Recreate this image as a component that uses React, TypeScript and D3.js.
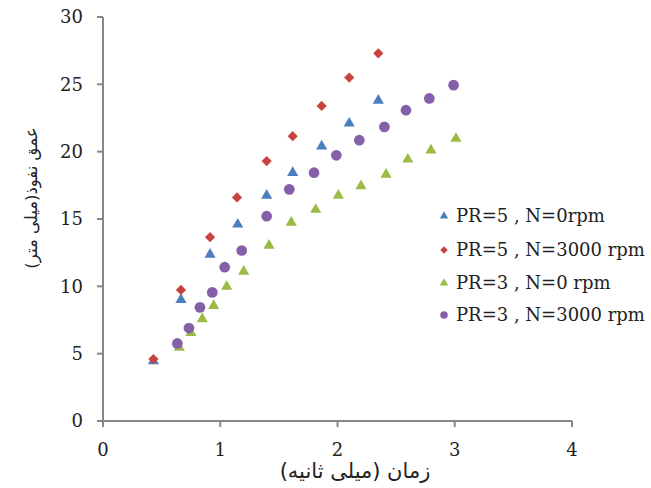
import React from "react";
import * as d3 from "d3";

const xTicks = [0, 1, 2, 3, 4];
const yTicks = [0, 5, 10, 15, 20, 25, 30];

const pr5n0X = [0.43, 0.665, 0.913, 1.149, 1.396, 1.618, 1.865, 2.1, 2.348];
const pr5n0Y = [4.45, 9.0, 12.36, 14.6, 16.75, 18.44, 20.4, 22.1, 23.8];

const pr5n3000X = [0.43, 0.665, 0.913, 1.143, 1.396, 1.618, 1.865, 2.1, 2.348];
const pr5n3000Y = [4.6, 9.73, 13.65, 16.6, 19.3, 21.15, 23.4, 25.5, 27.3];

const pr3n0X = [0.651, 0.75, 0.847, 0.944, 1.055, 1.2, 1.416, 1.606, 1.814, 2.007, 2.2, 2.414, 2.6, 2.797, 3.01];
const pr3n0Y = [5.46, 6.55, 7.57, 8.56, 9.98, 11.1, 13.03, 14.74, 15.7, 16.75, 17.45, 18.3, 19.43, 20.1, 20.97];

const pr3n3000X = [0.634, 0.733, 0.827, 0.932, 1.038, 1.183, 1.396, 1.589, 1.8, 1.99, 2.186, 2.4, 2.584, 2.783, 2.99];
const pr3n3000Y = [5.76, 6.9, 8.44, 9.55, 11.42, 12.66, 15.21, 17.2, 18.44, 19.73, 20.85, 21.84, 23.08, 23.95, 24.94];

const seriesNames = ["PR=5 , N=0rpm", "PR=5 , N=3000 rpm", "PR=3 , N=0 rpm", "PR=3 , N=3000 rpm"];
const seriesColors = ["#4a7ebf", "#c8433f", "#9bbb45", "#8360a8"];
const seriesShapes = ["triangle", "diamond", "triangle", "circle"];

const xTitle = "زمان (میلی ثانیه)";
const yTitle = "عمق نفوذ(میلی متر)";

const W = 651;
const H = 488;

function markerPath(shape: string, big: boolean) {
  if (shape === "triangle") return d3.symbol(d3.symbolTriangle, big ? 54 : 30)()!;
  if (shape === "diamond") return d3.symbol(d3.symbolSquare, big ? 52 : 28)()!;
  return d3.symbol(d3.symbolCircle, big ? 90 : 44)()!;
}

export default function App() {
  const x = d3.scaleLinear().domain([0, 4]).range([103, 572]);
  const y = d3.scaleLinear().domain([0, 30]).range([421, 17]);

  const series = [
    { xs: pr5n0X, ys: pr5n0Y },
    { xs: pr5n3000X, ys: pr5n3000Y },
    { xs: pr3n0X, ys: pr3n0Y },
    { xs: pr3n3000X, ys: pr3n3000Y },
  ];

  const axisColor = "#878787";
  const numFont = "'DejaVu Serif', serif";
  const legendRows = [216, 250, 283, 315];

  return (
    <svg width={W} height={H} style={{ position: "absolute", left: 0, top: 0, background: "#fff" }}>
      {/* axes */}
      <line x1={x(0)} x2={x(0)} y1={y(30)} y2={y(0)} stroke={axisColor} strokeWidth={2} />
      <line x1={x(0)} x2={x(4)} y1={y(0)} y2={y(0)} stroke={axisColor} strokeWidth={2} />
      {yTicks.map((t) => (
        <g key={"y" + t}>
          <line x1={x(0) - 6} x2={x(0)} y1={y(t)} y2={y(t)} stroke={axisColor} strokeWidth={2} />
          <text x={83} y={y(t)} dy="0.36em" textAnchor="end" fontFamily={numFont} fontSize={18} fill="#222">
            {t}
          </text>
        </g>
      ))}
      {xTicks.map((t) => (
        <g key={"x" + t}>
          <line x1={x(t)} x2={x(t)} y1={y(0)} y2={y(0) + 6} stroke={axisColor} strokeWidth={2} />
          <text x={x(t)} y={456} textAnchor="middle" fontFamily={numFont} fontSize={18} fill="#222">
            {t}
          </text>
        </g>
      ))}
      {/* titles */}
      <text x={355} y={478} textAnchor="middle" fontFamily="'DejaVu Sans', sans-serif" fontSize={21} fill="#222" direction="rtl">
        {xTitle}
      </text>
      <text
        transform={`translate(37,198) rotate(-90)`}
        textAnchor="middle"
        fontFamily="'DejaVu Sans', sans-serif"
        fontSize={16.5}
        fill="#222"
        direction="rtl"
      >
        {yTitle}
      </text>
      {/* points */}
      {series.map((s, si) => (
        <g key={"s" + si} fill={seriesColors[si]}>
          {s.xs.map((xv, i) => (
            <path
              key={i}
              d={markerPath(seriesShapes[si], true)}
              transform={`translate(${x(xv)},${y(s.ys[i])})${seriesShapes[si] === "diamond" ? " rotate(45)" : ""}`}
            />
          ))}
        </g>
      ))}
      {/* legend */}
      {seriesNames.map((name, i) => (
        <g key={"l" + i}>
          <path
            d={markerPath(seriesShapes[i], false)}
            fill={seriesColors[i]}
            transform={`translate(444,${legendRows[i]})${seriesShapes[i] === "diamond" ? " rotate(45)" : ""}`}
          />
          <text x={456} y={legendRows[i]} dy="0.36em" fontFamily={numFont} fontSize={18} fill="#222">
            {name}
          </text>
        </g>
      ))}
    </svg>
  );
}
